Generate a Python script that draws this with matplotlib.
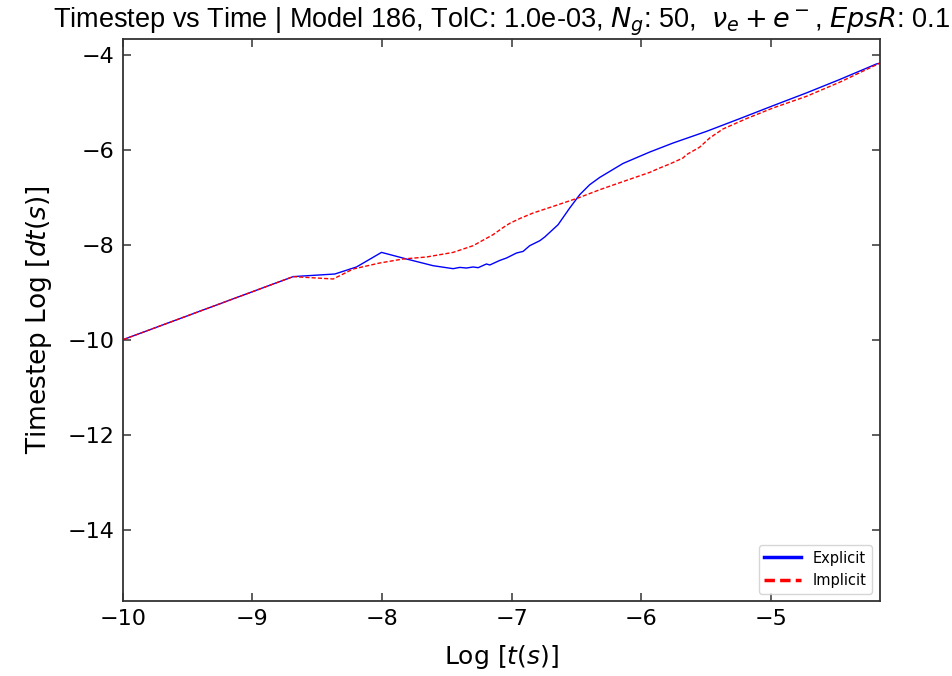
import numpy as np
import matplotlib
matplotlib.use('Agg')
from matplotlib import pyplot as plt


# log t and log dt
exp_t = [-10.0, -8.686, -8.364, -8.197, -8.004, -7.811, -7.606, -7.451, -7.40, -7.348,
         -7.297, -7.258, -7.194, -7.168, -7.091, -7.039, -6.962, -6.911, -6.860, -6.782,
         -6.744, -6.641, -6.551, -6.474, -6.397, -6.319, -6.140, -5.934, -5.754, -5.496,
         -5.239, -4.982, -4.725, -4.470, -4.184, -4.159]
exp_dt = [-10.0, -8.672, -8.617, -8.469, -8.162, -8.301, -8.442, -8.505, -8.478, -8.491,
          -8.469, -8.484, -8.406, -8.427, -8.331, -8.280, -8.175, -8.141, -8.021, -7.916,
          -7.838, -7.579, -7.227, -6.947, -6.737, -6.583, -6.290, -6.050, -5.860, -5.615,
          -5.347, -5.074, -4.806, -4.526, -4.196, -4.18]

imp_t = [-10.0, -8.686, -8.377, -8.223, -8.017, -7.837, -7.657, -7.451, -7.297, -7.143,
         -7.066, -7.014, -6.937, -6.834, -6.680, -6.487, -6.319, -6.113, -5.934, -5.856,
         -5.779, -5.677, -5.650, -5.548, -5.471, -5.368, -5.188, -4.982, -4.725, -4.470,
         -4.159]
imp_dt = [-10.0, -8.672, -8.722, -8.512, -8.385, -8.301, -8.259, -8.162, -8.021, -7.789,
          -7.640, -7.550, -7.450, -7.333, -7.194, -7.017, -6.842, -6.646, -6.478, -6.385,
          -6.301, -6.175, -6.105, -5.947, -5.754, -5.564, -5.347, -5.122, -4.878, -4.583,
          -4.18]


plt.rcParams['font.family'] = ['DejaVu Sans']

fig = plt.figure(figsize = (9.53, 6.76), dpi = 100)
ax = fig.add_axes([0.129, 0.111, 0.794, 0.832])

ax.plot(exp_t, exp_dt, color = 'blue', lw = 1.0, label = 'Explicit')
ax.plot(imp_t, imp_dt, color = 'red', lw = 1.0, ls = '--', dashes = (3, 1.5), label = 'Implicit')

ax.set_xlim(min(exp_t), max(exp_t))
ax.set_ylim(-15.5, -3.66)
ax.set_xticks([-10, -9, -8, -7, -6, -5])
ax.set_yticks([-14, -12, -10, -8, -6, -4])

ax.tick_params(direction = 'in', length = 6, width = 1.1, color = '#333333',
               top = True, right = True, labelsize = 16, pad = 6)
for s in ax.spines.values():
    s.set_color('#333333')
    s.set_linewidth(1.3)

ax.set_xlabel('Log $[t(s)]$', fontsize = 18, labelpad = 10)
ax.set_ylabel('Timestep Log $[dt(s)]$', fontsize = 19, labelpad = 10)
ax.set_title('Timestep vs Time | Model 186, TolC: 1.0e-03, $N_g$: 50,  $\\nu_e + e^-$, $EpsR$: 0.1',
             fontsize = 19.5, family = ['Liberation Sans', 'DejaVu Sans'], pad = 8)

leg = ax.legend(loc = 'lower right', fontsize = 10.5, frameon = True, fancybox = True,
                edgecolor = '#cccccc', handlelength = 2.5)
for line in leg.get_lines():
    line.set_linewidth(2.5)

fig.savefig('out.png', dpi = 100)
